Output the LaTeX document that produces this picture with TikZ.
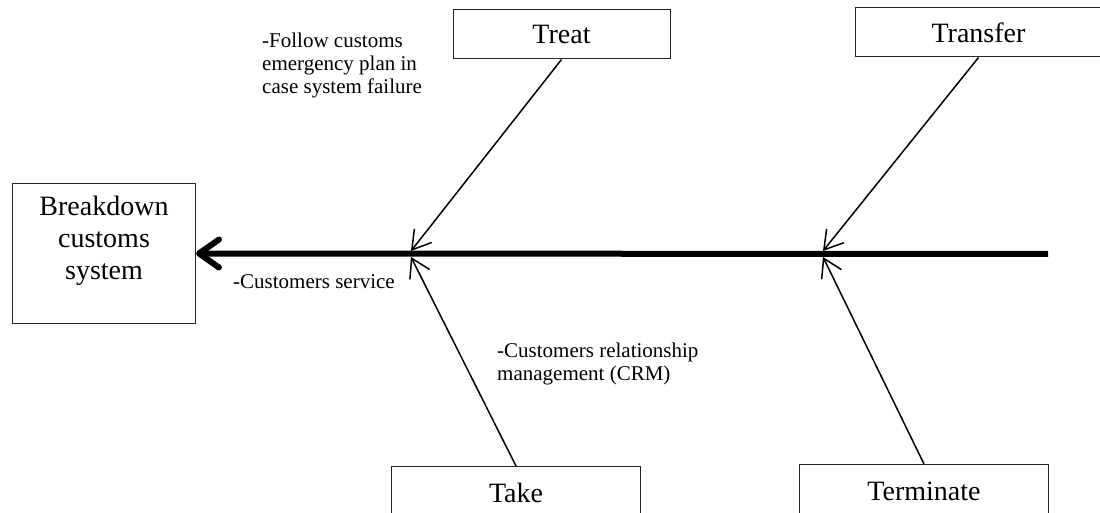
\documentclass[tikz,border=0pt]{standalone}
\usepackage{fontspec}
\setmainfont{Liberation Serif}
\usetikzlibrary{arrows.meta}
\tikzset{
  box/.style={draw=black!85, line width=1pt, inner sep=0pt, font=\fontsize{28}{32}\selectfont},
  lbl/.style={inner sep=0pt, align=left, font=\fontsize{21}{23}\selectfont},
  spine/.style={line width=6pt, -{Straight Barb[round,length=20pt,width=28pt]}},
  branch/.style={line width=1.5pt, -{Straight Barb[length=18pt,width=22pt]}}
}
\begin{document}
\begin{tikzpicture}[x=1pt,y=-1pt]
\clip (0,0) rectangle (1100,513);
\node[box, minimum width=183pt, minimum height=140pt, anchor=north west, align=center] (bd) at (12,183) {Breakdown\\customs\\system\\\mbox{}};
\node[box, minimum width=217pt, minimum height=49pt] (treat) at (561.5,34.5) {Treat};
\node[box, minimum width=247pt, minimum height=49pt] (transfer) at (978.5,32.5) {Transfer};
\node[box, minimum width=249pt, minimum height=60pt, anchor=north west] (take) at (391,466) {\raisebox{8pt}{Take}};
\node[box, minimum width=249pt, minimum height=60pt, anchor=north west] (term) at (799,464) {\raisebox{6pt}{Terminate}};
\coordinate (tail) at (1048,254);
\coordinate (j1u) at (411,251);
\coordinate (j1d) at (411,257);
\coordinate (j2u) at (823,251);
\coordinate (j2d) at (823,257);
\draw[spine] (tail) -- (bd.east);
\draw[branch] (treat.south) -- (j1u);
\draw[branch] (take.north) -- (j1d);
\draw[branch] (transfer.south) -- (j2u);
\draw[branch] (term.north) -- (j2d);
\node[lbl, anchor=north west] (l1) at (262,33) {-Follow customs\\emergency plan in\\case system failure};
\node[lbl, anchor=west] (l2) at (233,282) {-Customers service};
\node[lbl, anchor=north west] (l3) at (497,343) {-Customers relationship\\management (CRM)};
\end{tikzpicture}
\end{document}
